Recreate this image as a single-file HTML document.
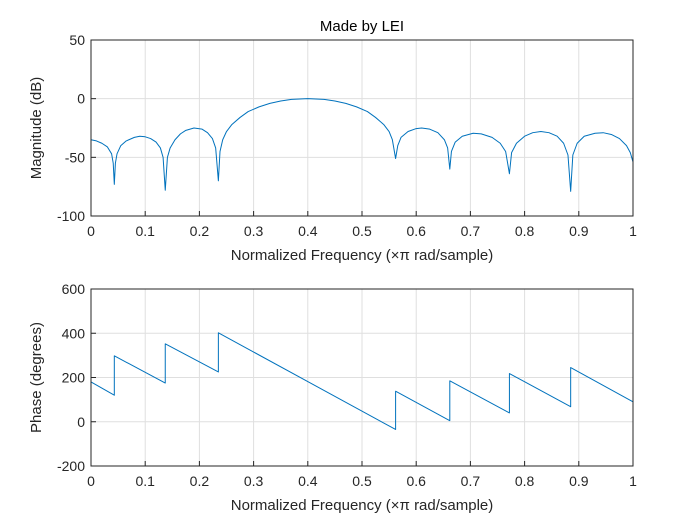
<!DOCTYPE html>
<html><head><meta charset="utf-8"><style>
html,body{margin:0;padding:0;background:#fff;}
svg{display:block;font-family:"Liberation Sans",sans-serif;}
</style></head><body>
<svg id="chart" width="700" height="525">
<rect width="700" height="525" fill="#fff"/>
</svg>
<script>
const magFreq=[0,0.01,0.02,0.03,0.038,0.041,0.043,0.045,0.048,0.055,0.065,0.08,0.09,0.1,0.11,0.12,0.128,0.133,0.137,0.141,0.146,0.155,0.165,0.175,0.19,0.205,0.215,0.224,0.23,0.235,0.238,0.243,0.25,0.26,0.275,0.29,0.31,0.33,0.35,0.37,0.4,0.43,0.45,0.47,0.49,0.51,0.525,0.54,0.55,0.556,0.562,0.566,0.572,0.585,0.6,0.61,0.625,0.64,0.652,0.658,0.662,0.665,0.672,0.685,0.705,0.72,0.74,0.755,0.765,0.772,0.776,0.785,0.8,0.815,0.83,0.845,0.86,0.872,0.88,0.885,0.889,0.897,0.91,0.93,0.945,0.96,0.975,0.988,0.995,1];
const magDb=[-35,-36,-38,-41,-47,-55,-73,-55,-47,-40,-36,-33,-32,-32.5,-34,-37,-42,-50,-78,-50,-42,-35,-30,-27,-25,-26,-29,-34,-42,-70,-45,-35,-28,-22,-16,-11,-7,-4,-2,-0.6,0,-0.6,-2,-4,-7,-11,-16,-22,-28,-35,-51,-40,-33,-28,-25.5,-25,-26,-29,-35,-42,-60,-45,-37,-32,-29.5,-30,-33,-38,-45,-64,-46,-38,-32,-29,-28,-29,-32,-38,-48,-79,-48,-38,-32,-29.5,-29,-30.5,-34,-40,-46,-54];
const phFreq=[0,0.043,0.043,0.137,0.137,0.235,0.235,0.562,0.562,0.662,0.662,0.772,0.772,0.885,0.885,1];
const phDeg=[180,120,298,175,352,225,402,-35,138,5,185,40,218,68,245,90];
const xTicks=[0,0.1,0.2,0.3,0.4,0.5,0.6,0.7,0.8,0.9,1];
const xTickLabels=["0","0.1","0.2","0.3","0.4","0.5","0.6","0.7","0.8","0.9","1"];
const magTicks=[50,0,-50,-100];
const phTicks=[600,400,200,0,-200];

const svg=document.getElementById('chart');
const NS='http://www.w3.org/2000/svg';
function mk(t,a,txt){const e=document.createElementNS(NS,t);for(const k in a)e.setAttribute(k,a[k]);if(txt!==undefined)e.textContent=txt;svg.appendChild(e);return e;}
const X0=91,X1=633;
const xs=f=>X0+(X1-X0)*f;

function axes(top,bot,ymin,ymax,ticks,fx,fy,ylabel,prefix,title){
  const ys=v=>bot-(v-ymin)/(ymax-ymin)*(bot-top);
  let bg=mk('rect',{x:X0,y:top,width:X1-X0,height:bot-top,fill:'#fff'});
  
  
  xTicks.forEach((t,i)=>{
    let g=mk('line',{x1:xs(t),x2:xs(t),y1:top,y2:bot,stroke:'#dfdfdf','stroke-width':1});
    
    
    let tk=mk('line',{x1:xs(t),x2:xs(t),y1:bot,y2:bot-5,stroke:'#262626'});
    
    
    let l=mk('text',{x:xs(t),y:bot+20,'font-size':14,'text-anchor':'middle',fill:'#262626'},xTickLabels[i]);
    
    
  });
  ticks.forEach(t=>{
    let g=mk('line',{x1:X0,x2:X1,y1:ys(t),y2:ys(t),stroke:'#dfdfdf','stroke-width':1});
    
    
    let tk=mk('line',{x1:X0,x2:X0+5,y1:ys(t),y2:ys(t),stroke:'#262626'});
    
    
    let l=mk('text',{x:X0-6,y:ys(t)+5,'font-size':14,'text-anchor':'end',fill:'#262626'},String(t));
    
    
  });
  const pts=fx.map((f,i)=>xs(f).toFixed(2)+','+ys(fy[i]).toFixed(2)).join(' ');
  let line=mk('polyline',{points:pts,fill:'none',stroke:'#0072bd','stroke-width':1,'stroke-linejoin':'round'});
  
  
  let box=mk('rect',{x:X0,y:top,width:X1-X0,height:bot-top,fill:'none',stroke:'#262626','stroke-width':1});
  
  
  let xl=mk('text',{x:(X0+X1)/2,y:bot+44,'font-size':15,'text-anchor':'middle',fill:'#262626'},'Normalized Frequency  (\u00d7\u03c0 rad/sample)');
  
  
  let yl=mk('text',{x:0,y:0,'font-size':15,'text-anchor':'middle',fill:'#262626',transform:`translate(41,${(top+bot)/2}) rotate(-90)`},ylabel);
  
  
  if(title){
    let tt=mk('text',{x:(X0+X1)/2,y:top-9,'font-size':15,'text-anchor':'middle',fill:'#000'},title);
    
    
  }
}
axes(40,216,-100,50,magTicks,magFreq,magDb,'Magnitude (dB)','magnitude','Made by LEI');
axes(289,466,-200,600,phTicks,phFreq,phDeg,'Phase (degrees)','phase',null);
</script>
</body></html>
